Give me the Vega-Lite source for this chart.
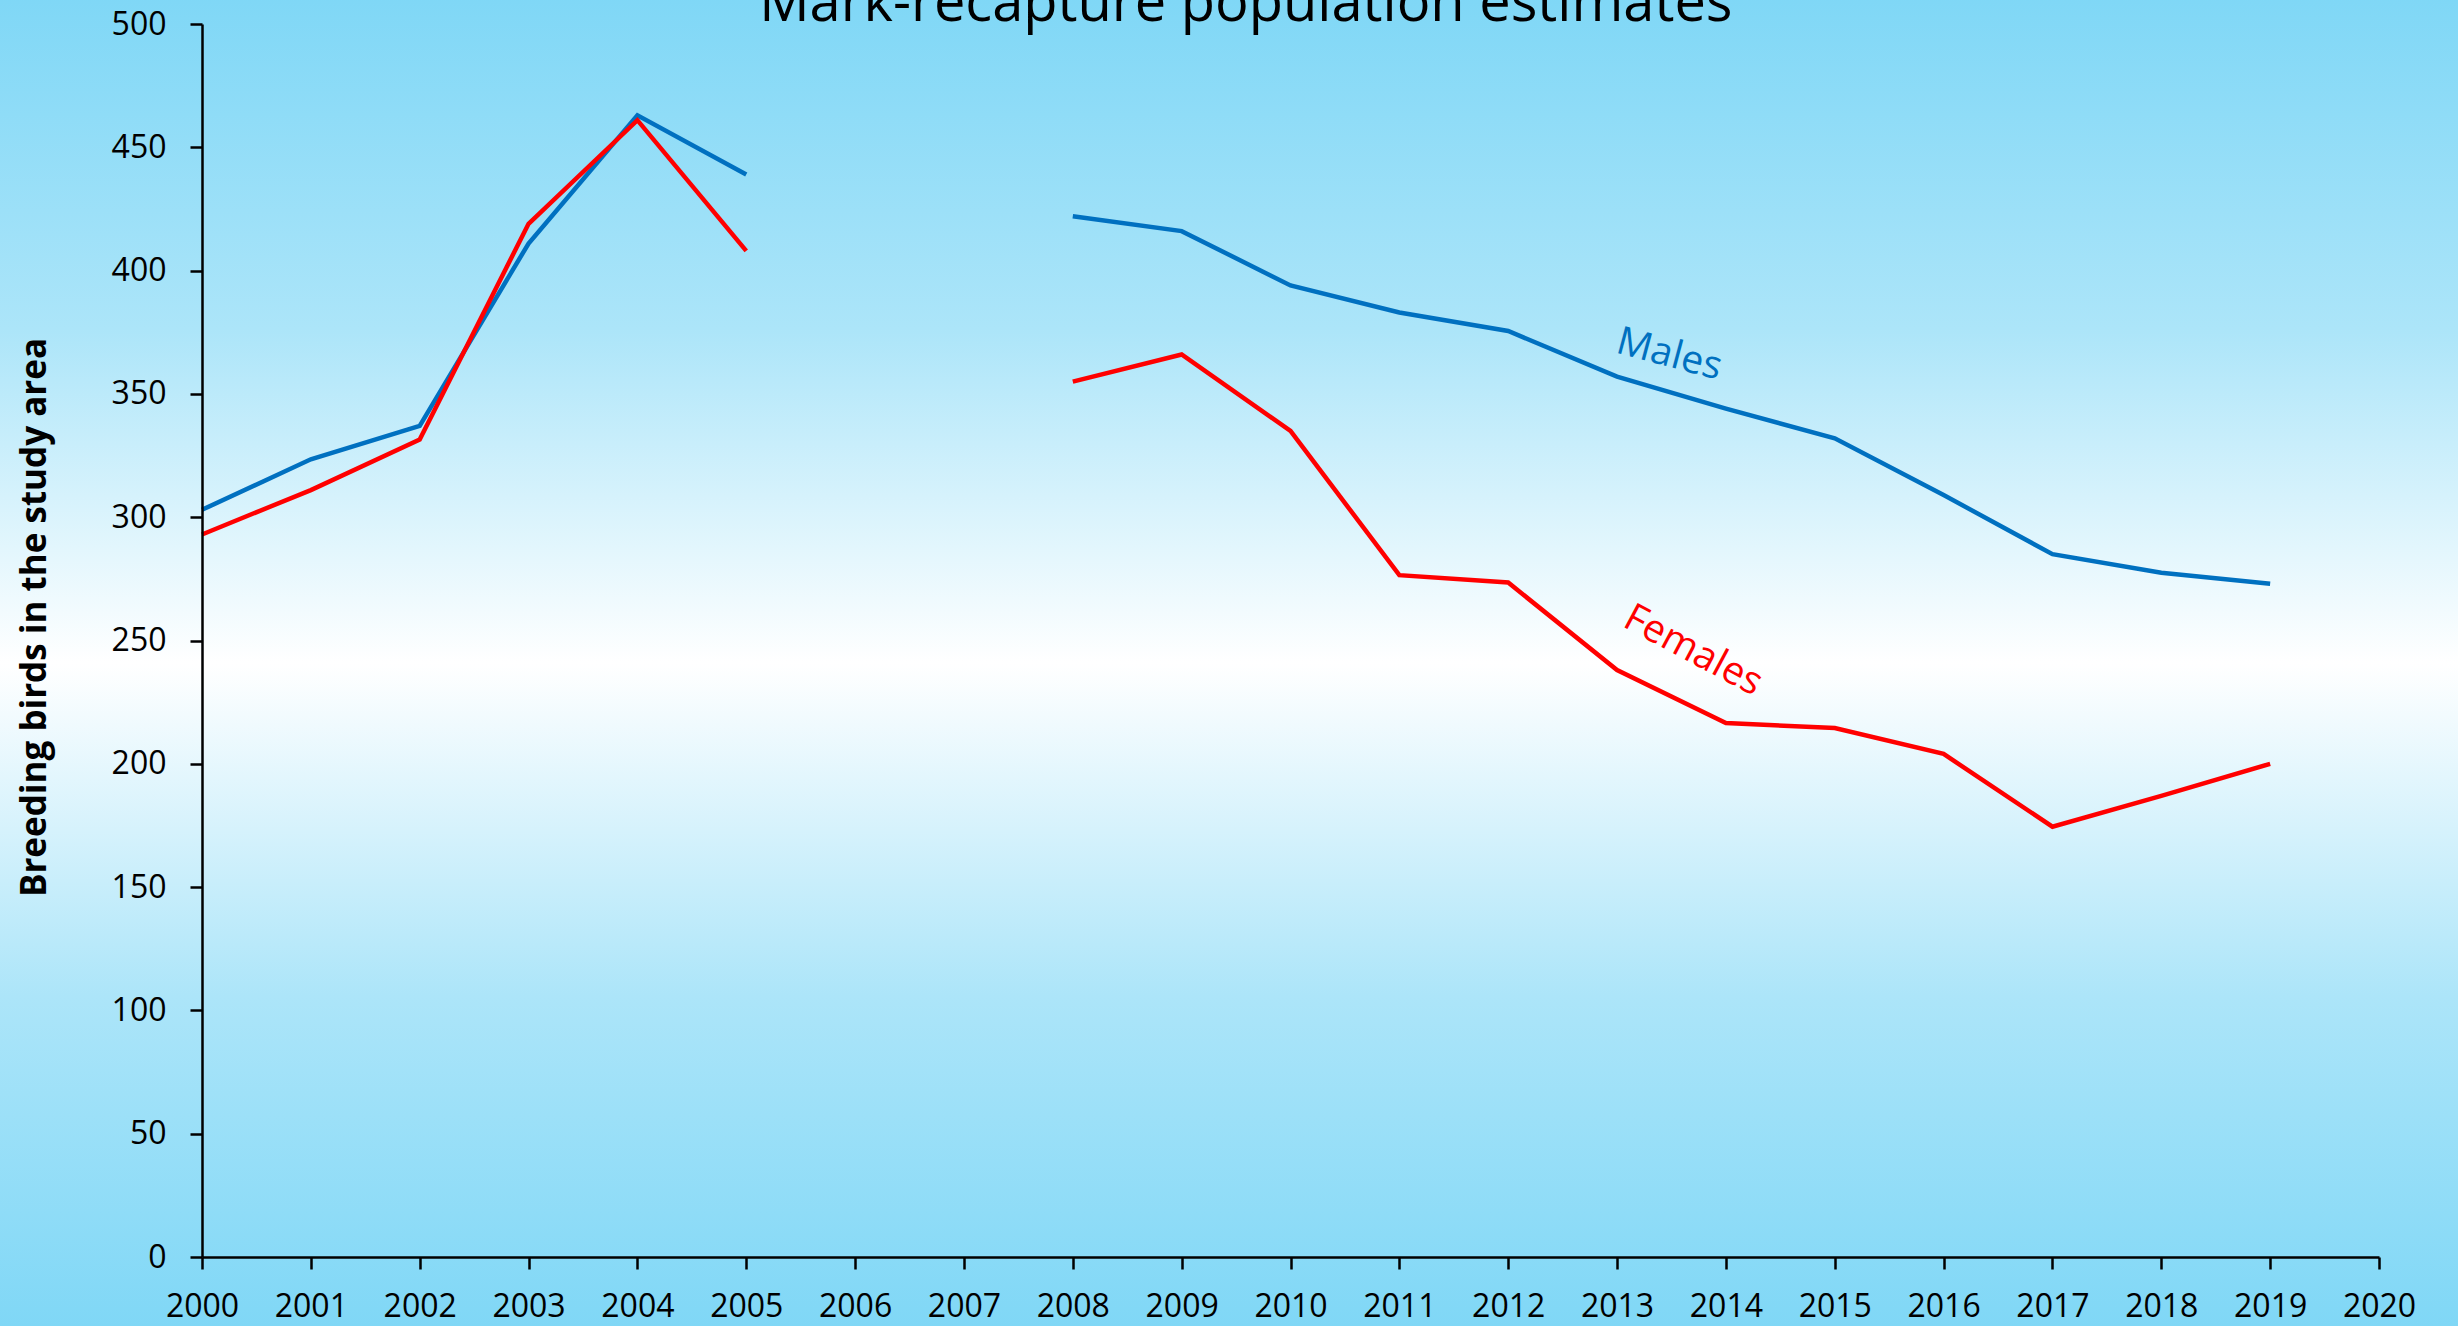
{
  "$schema": "https://vega.github.io/schema/vega-lite/v6.json",
  "width": 2177,
  "height": 1233,
  "autosize": {"type": "none"},
  "padding": {"left": 202, "top": 24, "right": 79, "bottom": 69},
  "background": "#7FD7F6",
  "config": {
    "view": {"stroke": null},
    "axis": {
      "grid": false,
      "domainColor": "#000000",
      "domainWidth": 2.5,
      "tickColor": "#000000",
      "tickWidth": 2.5,
      "tickSize": 12,
      "labelFont": "Open Sans",
      "labelFontSize": 32,
      "labelColor": "#000000",
      "titleFont": "Open Sans",
      "titleColor": "#000000"
    }
  },
  "datasets": {
    "pop": [
      {"year": 2000, "sex": "Males", "seg": 1, "value": 303},
      {"year": 2001, "sex": "Males", "seg": 1, "value": 323.5},
      {"year": 2002, "sex": "Males", "seg": 1, "value": 337},
      {"year": 2003, "sex": "Males", "seg": 1, "value": 411},
      {"year": 2004, "sex": "Males", "seg": 1, "value": 463},
      {"year": 2005, "sex": "Males", "seg": 1, "value": 439},
      {"year": 2008, "sex": "Males", "seg": 2, "value": 422},
      {"year": 2009, "sex": "Males", "seg": 2, "value": 416},
      {"year": 2010, "sex": "Males", "seg": 2, "value": 394},
      {"year": 2011, "sex": "Males", "seg": 2, "value": 383},
      {"year": 2012, "sex": "Males", "seg": 2, "value": 375.5},
      {"year": 2013, "sex": "Males", "seg": 2, "value": 357},
      {"year": 2014, "sex": "Males", "seg": 2, "value": 344},
      {"year": 2015, "sex": "Males", "seg": 2, "value": 332},
      {"year": 2016, "sex": "Males", "seg": 2, "value": 309},
      {"year": 2017, "sex": "Males", "seg": 2, "value": 285},
      {"year": 2018, "sex": "Males", "seg": 2, "value": 277.5},
      {"year": 2019, "sex": "Males", "seg": 2, "value": 273},
      {"year": 2000, "sex": "Females", "seg": 1, "value": 293},
      {"year": 2001, "sex": "Females", "seg": 1, "value": 311},
      {"year": 2002, "sex": "Females", "seg": 1, "value": 331.5},
      {"year": 2003, "sex": "Females", "seg": 1, "value": 419},
      {"year": 2004, "sex": "Females", "seg": 1, "value": 461},
      {"year": 2005, "sex": "Females", "seg": 1, "value": 408},
      {"year": 2008, "sex": "Females", "seg": 2, "value": 355},
      {"year": 2009, "sex": "Females", "seg": 2, "value": 366},
      {"year": 2010, "sex": "Females", "seg": 2, "value": 335},
      {"year": 2011, "sex": "Females", "seg": 2, "value": 276.5},
      {"year": 2012, "sex": "Females", "seg": 2, "value": 273.5},
      {"year": 2013, "sex": "Females", "seg": 2, "value": 238},
      {"year": 2014, "sex": "Females", "seg": 2, "value": 216.5},
      {"year": 2015, "sex": "Females", "seg": 2, "value": 214.5},
      {"year": 2016, "sex": "Females", "seg": 2, "value": 204},
      {"year": 2017, "sex": "Females", "seg": 2, "value": 174.5},
      {"year": 2018, "sex": "Females", "seg": 2, "value": 187},
      {"year": 2019, "sex": "Females", "seg": 2, "value": 200}
    ]
  },
  "data": {"name": "pop"},
  "layer": [
    {
      "mark": {
        "type": "rect",
        "clip": false,
        "fill": {
          "gradient": "linear",
          "x1": 0, "y1": 0, "x2": 0, "y2": 1,
          "stops": [
            {"offset": 0, "color": "#7FD7F6"},
            {"offset": 0.25, "color": "#ACE5F9"},
            {"offset": 0.5, "color": "#FFFFFF"},
            {"offset": 0.75, "color": "#ACE5F9"},
            {"offset": 1, "color": "#7FD7F6"}
          ]
        }
      },
      "data": {"values": [{}]},
      "encoding": {
        "x": {"datum": 1998.0, "type": "quantitative"},
        "x2": {"datum": 2021.0},
        "y": {"datum": 511.5, "type": "quantitative"},
        "y2": {"datum": -30}
      }
    },
    {
      "mark": {"type": "line", "strokeWidth": 4.5},
      "encoding": {
        "x": {
          "field": "year",
          "type": "quantitative",
          "scale": {"domain": [2000, 2020], "nice": false, "zero": false},
          "axis": {
            "zindex": 1,
            "title": null,
            "format": "d",
            "values": [2000, 2001, 2002, 2003, 2004, 2005, 2006, 2007, 2008, 2009, 2010, 2011, 2012, 2013, 2014, 2015, 2016, 2017, 2018, 2019, 2020],
            "labelBaseline": "alphabetic",
            "labelPadding": 47,
            "labelFlush": false,
            "labelOverlap": false
          }
        },
        "y": {
          "field": "value",
          "type": "quantitative",
          "scale": {"domain": [0, 500], "nice": false},
          "axis": {
            "zindex": 1,
            "title": "Breeding birds in the study area",
            "titleFontSize": 35,
            "titleFontWeight": "bold",
            "titleAngle": -90,
            "titleX": -168,
            "titleY": 593,
            "titleAlign": "center",
            "titleBaseline": "middle",
            "values": [0, 50, 100, 150, 200, 250, 300, 350, 400, 450, 500],
            "labelPadding": 24,
            "labelFlush": false,
            "labelOverlap": false
          }
        },
        "color": {
          "field": "sex",
          "type": "nominal",
          "scale": {"domain": ["Males", "Females"], "range": ["#0070C0", "#FF0000"]},
          "legend": null
        },
        "detail": {"field": "seg", "type": "nominal"}
      }
    },
    {
      "mark": {"type": "text", "text": "Mark-recapture population estimates", "font": "Open Sans", "fontSize": 56, "color": "#000000", "align": "center", "baseline": "alphabetic", "clip": false},
      "data": {"values": [{}]},
      "encoding": {
        "x": {"datum": 2009.59, "type": "quantitative"},
        "y": {"datum": 501.2, "type": "quantitative"}
      }
    },
    {
      "mark": {"type": "text", "text": "Males", "font": "Open Sans", "fontSize": 39, "color": "#0070C0", "angle": 15, "align": "center", "baseline": "middle"},
      "data": {"values": [{}]},
      "encoding": {
        "x": {"datum": 2013.48, "type": "quantitative"},
        "y": {"datum": 366, "type": "quantitative"}
      }
    },
    {
      "mark": {"type": "text", "text": "Females", "font": "Open Sans", "fontSize": 39, "color": "#FF0000", "angle": 28, "align": "center", "baseline": "middle"},
      "data": {"values": [{}]},
      "encoding": {
        "x": {"datum": 2013.7, "type": "quantitative"},
        "y": {"datum": 246, "type": "quantitative"}
      }
    }
  ]
}
